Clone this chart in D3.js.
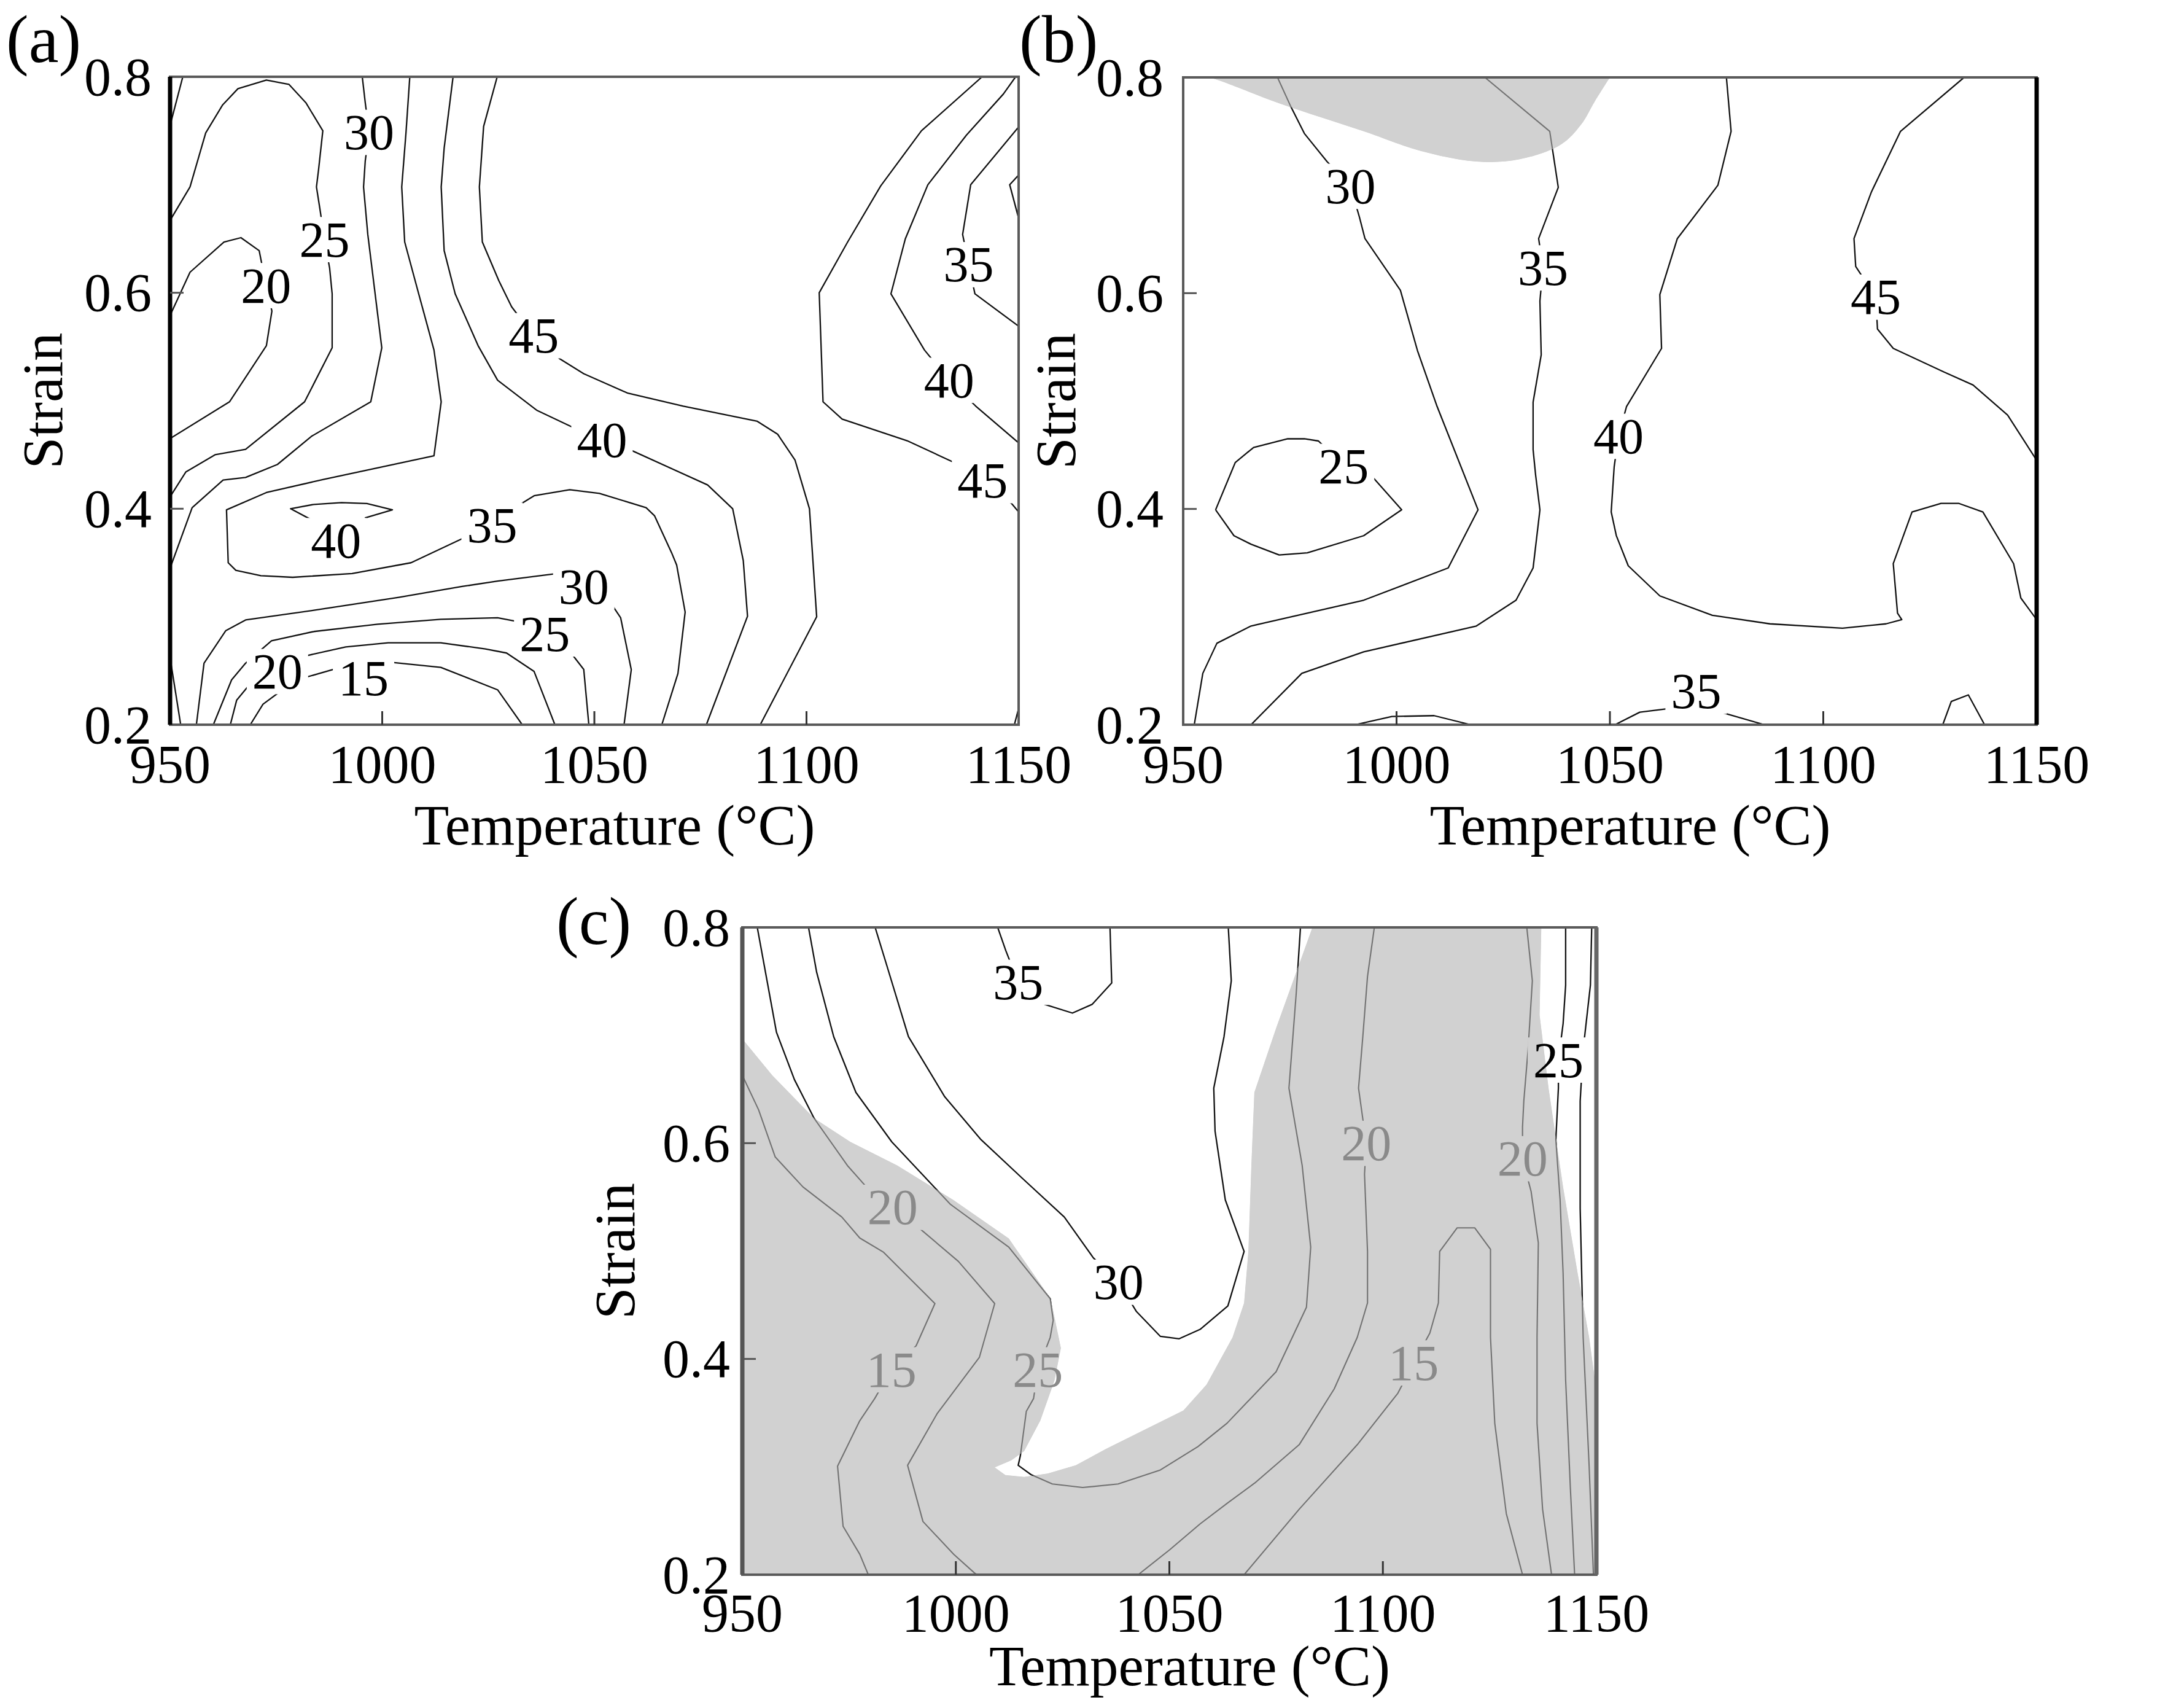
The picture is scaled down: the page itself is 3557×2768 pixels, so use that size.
<!DOCTYPE html>
<html><head><meta charset="utf-8">
<script src="https://cdn.jsdelivr.net/npm/d3@7"></script>
<style>
body{margin:0;background:#fff}
svg{display:block}
text{font-family:"Liberation Serif","Times New Roman",serif}
</style>
</head><body>
<svg id="chart" width="3557" height="2768"></svg>
<script>
// ---------------- axis values ----------------
const tempTicks = [950, 1000, 1050, 1100, 1150];
const strainTicks = [0.2, 0.4, 0.6, 0.8];
const xTitle = "Temperature (\u00B0C)";
const yTitle = "Strain";

// ---------------- panel (a) contour lines [temperature, strain] ----------------
const aCornerTL = [[953,0.8],[950,0.755]];
const a25top = [[950,0.667],[954.7,0.698],[958.4,0.748],[962.4,0.774],[966.0,0.789],[972.7,0.797],[978.0,0.793],[982.0,0.776],[986.0,0.750],[985.0,0.714],[984.5,0.698],[985.3,0.678],[986.4,0.649],[987.6,0.623],[988.2,0.599],[988.2,0.549],[981.7,0.499],[967.8,0.455],[960.6,0.450],[953.7,0.434],[950,0.411]];
const a20top = [[950,0.579],[954.7,0.619],[962.7,0.647],[966.7,0.651],[971.0,0.639],[972.6,0.607],[974.0,0.583],[972.7,0.551],[964.0,0.499],[950,0.465]];
const a30top = [[995.3,0.8],[996.0,0.776],[996.9,0.749],[996.0,0.722],[995.6,0.698],[996.6,0.654],[999.9,0.549],[997.3,0.499],[983.3,0.467],[975.3,0.441],[967.8,0.429],[962.5,0.4266],[955.2,0.401],[950,0.345]];
const a35 = [[1006.5,0.8],[1005.6,0.748],[1004.6,0.698],[1005.3,0.647],[1008.6,0.599],[1012.2,0.547],[1013.9,0.499],[1012.2,0.449],[986.0,0.427],[972.7,0.415],[963.3,0.399],[963.7,0.350],[965.5,0.343],[971.4,0.338],[978.9,0.3365],[992.9,0.340],[1006.8,0.350],[1019.8,0.374],[1025.9,0.385],[1032.5,0.404],[1035.8,0.412],[1044.2,0.4176],[1051.2,0.4142],[1062.2,0.401],[1064.2,0.3934],[1068.2,0.3593],[1069.4,0.3479],[1071.4,0.3043],[1069.7,0.2474],[1065.9,0.2]];
const a40loop = [[983.4,0.3896],[978.4,0.400],[983.9,0.404],[990.4,0.4057],[996.4,0.4048],[1002.4,0.399],[995.9,0.3915]];
const a40 = [[1016.7,0.8],[1014.6,0.734],[1013.9,0.698],[1014.6,0.639],[1017.2,0.599],[1022.6,0.551],[1027.2,0.519],[1036.5,0.491],[1046.2,0.473],[1051.8,0.463],[1058.2,0.455],[1076.7,0.422],[1082.6,0.400],[1085.1,0.352],[1086.1,0.3005],[1076.4,0.2]];
const a45 = [[1027.1,0.8],[1023.9,0.754],[1022.9,0.698],[1023.6,0.647],[1027.5,0.611],[1030.5,0.587],[1035.7,0.560],[1041.8,0.539],[1047.5,0.525],[1057.9,0.507],[1071.0,0.495],[1088.4,0.481],[1093.2,0.469],[1097.3,0.445],[1100.7,0.400],[1102.4,0.300],[1089.1,0.2]];
const a30bot = [[956.2,0.2],[958.0,0.257],[963.1,0.287],[967.8,0.297],[983.9,0.306],[1003.9,0.318],[1018.8,0.328],[1027.2,0.333],[1041.2,0.340],[1047.5,0.328],[1054.0,0.312],[1056.2,0.299],[1058.7,0.251],[1057.0,0.2]];
const a25bot = [[960.2,0.2],[964.5,0.2415],[967.8,0.257],[973.9,0.2777],[983.9,0.2863],[998.9,0.293],[1013.8,0.2976],[1027.2,0.299],[1032.5,0.295],[1038.3,0.284],[1044.7,0.2654],[1047.5,0.2512],[1048.7,0.2]];
const a20bot = [[964.2,0.2],[965.7,0.2228],[968.9,0.238],[975.3,0.2492],[981.7,0.2635],[991.4,0.272],[1001.4,0.2758],[1013.8,0.2758],[1024.3,0.2702],[1029.3,0.2664],[1035.8,0.2493],[1040.7,0.2]];
const a15bot = [[968.9,0.2],[971.9,0.219],[977.4,0.235],[980.9,0.2427],[989.4,0.2522],[1002.1,0.2578],[1013.8,0.2531],[1027.2,0.2323],[1033.0,0.2]];
const aCornerBL = [[950,0.262],[952.5,0.2]];
const a45r = [[1141.4,0.8],[1127.1,0.75],[1117.5,0.699],[1109.7,0.647],[1103.0,0.6],[1103.9,0.499],[1108.4,0.483],[1123.7,0.463],[1135.8,0.441],[1141.5,0.426],[1148.3,0.405],[1150,0.397]];
const a40r = [[1149.3,0.8],[1146.4,0.784],[1137.7,0.746],[1128.6,0.700],[1123.3,0.650],[1119.9,0.599],[1127.8,0.547],[1133.6,0.519],[1139.9,0.495],[1150,0.461]];
const a35r = [[1150,0.7535],[1138.7,0.700],[1136.8,0.654],[1138.2,0.627],[1139.7,0.599],[1150,0.569]];
const a30r = [[1150,0.709],[1147.9,0.700],[1150,0.669]];
const aTinyBR = [[1150,0.215],[1149,0.2]];
const aLabels = [["30",996.9,0.7485],["25",986.4,0.6492],["20",972.6,0.6066],["45",1035.7,0.5602],["40",1051.8,0.4634],["40",989.1,0.3705],["35",1025.9,0.3847],["30",1047.5,0.3279],["25",1038.3,0.2840],["20",975.3,0.2492],["15",995.6,0.2428],["35",1138.2,0.6260],["40",1133.6,0.5189],["45",1141.5,0.4260]];

// ---------------- panel (b) ----------------
const bGray = [[955,0.8],[956.9,0.799],[972.5,0.776],[992.3,0.750],[1005.5,0.732],[1018.7,0.722],[1028.7,0.724],[1038.6,0.738],[1043.2,0.756],[1046.5,0.778],[1050,0.8]];
const b30 = [[972.1,0.8],[975.1,0.774],[978.4,0.748],[983.7,0.722],[989.2,0.699],[991.3,0.6705],[992.6,0.6506],[1000.9,0.6027],[1004.9,0.5468],[1009.5,0.495],[1019.1,0.3992],[1012.1,0.3453],[992.3,0.3154],[965.9,0.2915],[957.9,0.2755],[954.6,0.2476],[952.6,0.2]];
const b25 = [[957.6,0.3992],[962.2,0.443],[966.5,0.457],[974.5,0.465],[978.4,0.465],[981.7,0.463],[987.6,0.440],[993.6,0.4331],[1001.2,0.3992],[992.3,0.3752],[979.1,0.3593],[972.5,0.3573],[965.9,0.3673],[961.9,0.3752],[957.6,0.3992]];
const b35 = [[1020.7,0.8],[1035.9,0.750],[1037.9,0.698],[1033.3,0.6506],[1034.3,0.6234],[1033.6,0.5927],[1033.9,0.5428],[1032.0,0.499],[1032.0,0.455],[1032.6,0.431],[1033.6,0.3992],[1032.0,0.3453],[1028.0,0.3154],[1018.7,0.2915],[992.3,0.2675],[977.8,0.2476],[965.9,0.2]];
const bBump1 = [[990.3,0.2],[998.9,0.2076],[1008.8,0.2084],[1017.4,0.2]];
const b35bot = [[1051.2,0.2],[1057.0,0.2116],[1065.1,0.2156],[1070.2,0.2160],[1076.0,0.2116],[1086.2,0.2]];
const bBump2 = [[1128.0,0.2],[1130.0,0.2216],[1134.0,0.2276],[1137.8,0.2]];
const b40 = [[1077.3,0.8],[1078.4,0.750],[1075.3,0.700],[1065.8,0.6506],[1061.7,0.5987],[1062.1,0.5488],[1053.9,0.495],[1052.0,0.4673],[1051.0,0.4391],[1050.3,0.3972],[1051.5,0.3753],[1054.3,0.3473],[1061.7,0.3194],[1074.0,0.3014],[1087.5,0.2935],[1104.5,0.2895],[1114.7,0.2935],[1118.4,0.2974],[1117.4,0.3034],[1116.4,0.3493],[1120.8,0.3972],[1127.6,0.4052],[1131.7,0.4052],[1137.4,0.3972],[1144.6,0.3493],[1146.3,0.3174],[1150,0.2974]];
const b45 = [[1133.0,0.8],[1118.1,0.750],[1111.3,0.694],[1107.2,0.6506],[1107.6,0.6247],[1112.3,0.5963],[1112.7,0.5668],[1116.4,0.5488],[1128.3,0.5269],[1135.1,0.5149],[1143.2,0.487],[1150,0.4451]];
const bLabels = [["30",989.2,0.699],["35",1034.3,0.6234],["25",987.6,0.4394],["40",1052.0,0.4673],["45",1112.3,0.5963],["35",1070.2,0.231]];

// ---------------- panel (c) ----------------
const cGray = [[1083.5,0.8],[1137.1,0.8],[1136.7,0.7187],[1138.8,0.651],[1142.2,0.5594],[1145.6,0.4797],[1148.3,0.42],[1150,0.37],[1150,0.2],[950,0.2],[950,0.6967],[957.0,0.6629],[966.8,0.6231],[975.3,0.6012],[986.3,0.5793],[999.4,0.5474],[1012.4,0.5116],[1022.2,0.4558],[1024.6,0.41],[1023.1,0.38],[1019.8,0.343],[1016.0,0.3145],[1013.0,0.306],[1009.1,0.2995],[1011.6,0.2923],[1016.0,0.2906],[1021.5,0.2938],[1028.1,0.3014],[1035.2,0.3167],[1046.2,0.3384],[1053.3,0.3523],[1058.7,0.3762],[1064.8,0.42],[1067.5,0.4519],[1068.5,0.4996],[1069.2,0.5793],[1069.9,0.647],[1075.0,0.7067],[1083.5,0.8]];
const c20a = [[953.5,0.8],[958.0,0.7027],[962.2,0.6589],[966.8,0.6231],[974.6,0.5793],[979.5,0.5574],[985.2,0.5405],[990.9,0.523],[1000.6,0.4904],[1009.1,0.4513],[1005.5,0.4014],[995.6,0.3492],[988.7,0.3014],[992.3,0.2493],[999.5,0.2189],[1004.4,0.2015],[1005,0.2]];
const c15a = [[950,0.6629],[953.8,0.631],[957.7,0.5872],[964.2,0.5594],[973.3,0.5315],[977.5,0.5121],[983.0,0.4991],[995.1,0.4513],[990.7,0.4122],[984.9,0.39],[981.0,0.3633],[977.5,0.3427],[972.3,0.3006],[973.6,0.2448],[977.5,0.219],[979.5,0.2]];
const c25 = [[965.5,0.8],[967.4,0.7585],[971.4,0.6987],[976.6,0.647],[985.0,0.6012],[998.7,0.5434],[1012.4,0.5036],[1022.1,0.4558],[1022.8,0.4359],[1022.1,0.42],[1019.2,0.39],[1018.2,0.3633],[1016.5,0.3514],[1015.1,0.3101],[1014.6,0.3014],[1017.6,0.2928],[1022.6,0.2841],[1029.7,0.2808],[1038.0,0.2841],[1047.9,0.2971],[1056.7,0.3188],[1063.5,0.3404],[1075.0,0.3881],[1082.1,0.4479],[1083.1,0.5036],[1081.1,0.5793],[1078.0,0.651],[1079.7,0.7386],[1080.7,0.8]];
const c30 = [[981.1,0.8],[983.7,0.7664],[988.9,0.6987],[997.4,0.643],[1005.9,0.6032],[1015.6,0.5673],[1025.4,0.5315],[1032.2,0.4937],[1038.1,0.4711],[1042.3,0.4439],[1047.9,0.4209],[1052.3,0.4187],[1057.2,0.4274],[1063.7,0.4491],[1067.5,0.4996],[1063.1,0.5474],[1060.7,0.6111],[1060.4,0.651],[1062.8,0.6987],[1064.5,0.7505],[1063.8,0.8]];
const c35 = [[1009.8,0.8],[1011.7,0.7784],[1014.6,0.7491],[1020.8,0.7286],[1027.3,0.7206],[1031.9,0.7286],[1036.5,0.7485],[1036.1,0.8]];
const c20b = [[1098.0,0.8],[1096.4,0.7545],[1095.3,0.6987],[1094.3,0.651],[1095.0,0.631],[1096.1,0.5998],[1095.7,0.5713],[1096.4,0.4996],[1096.4,0.4519],[1094.0,0.42],[1088.6,0.3722],[1080.4,0.3205],[1070,0.285],[1063.7,0.2667],[1057.2,0.2471],[1050.1,0.2232],[1042.7,0.2]];
const c15b = [[1067.5,0.2],[1080.4,0.2607],[1094.0,0.3205],[1103.5,0.3682],[1107.2,0.3963],[1111.0,0.424],[1113.0,0.4519],[1113.3,0.4996],[1117.4,0.5215],[1121.5,0.5215],[1125.2,0.5016],[1125.2,0.42],[1126.2,0.3404],[1128.9,0.2567],[1132.7,0.2]];
const c20c = [[1133.7,0.8],[1135.0,0.7505],[1134.0,0.6868],[1133.0,0.639],[1132.7,0.6151],[1132.7,0.5856],[1134.7,0.5554],[1136.4,0.5076],[1136.1,0.42],[1136.1,0.3404],[1137.4,0.2607],[1139.5,0.2]];
const c25b = [[1142.8,0.8],[1142.8,0.7465],[1142.2,0.7107],[1141.1,0.677],[1141.1,0.651],[1140.5,0.6032],[1141.5,0.5474],[1142.2,0.4797],[1142.8,0.3802],[1143.9,0.2806],[1144.9,0.2]];
const cEdge = [[1148.9,0.8],[1148.6,0.7465],[1146.9,0.6868],[1146.2,0.639],[1146.2,0.5395],[1146.9,0.42],[1148.3,0.3005],[1149.3,0.2]];
const cLabels = [["35",1014.6,0.7491,0],["30",1038.1,0.4711,0],["20",985.2,0.5405,1],["15",984.9,0.3899,1],["25",1019.2,0.3899,1],["20",1096.1,0.5998,1],["20",1132.7,0.5856,1],["15",1107.2,0.3963,1],["25",1141.1,0.677,0]];

// ---------------- drawing ----------------
const W = 3557, H = 2768;
const GRAY_FILL = "#d1d1d1";
const LABEL_SIZE = 82, TICK_SIZE = 88, TITLE_SIZE = 93;
const svg = d3.select("#chart");
const defs = svg.append("defs");

function drawPanel(p) {
  const x = d3.scaleLinear().domain([950, 1150]).range([p.x0, p.x1]);
  const y = d3.scaleLinear().domain([0.2, 0.8]).range([p.y1, p.y0]);
  const line = d3.line().x(d => x(d[0])).y(d => y(d[1]));
  const g = svg.append("g");
  const clipId = "plot-" + p.id;
  defs.append("clipPath").attr("id", clipId).append("rect")
    .attr("x", p.x0).attr("y", p.y0).attr("width", p.x1 - p.x0).attr("height", p.y1 - p.y0);
  const maskId = clipId + "-m";
  const mask = defs.append("mask").attr("id", maskId).attr("maskUnits", "userSpaceOnUse")
    .attr("x", 0).attr("y", 0).attr("width", W).attr("height", H);
  mask.append("rect").attr("x", 0).attr("y", 0).attr("width", W).attr("height", H).attr("fill", "#fff");

  const inner = g.append("g").attr("clip-path", `url(#${clipId})`);

  let grayD = null;
  if (p.gray) {
    const gl = p.grayCurve ? d3.line().x(d => x(d[0])).y(d => y(d[1])).curve(d3.curveCatmullRom) : line;
    grayD = gl(p.gray) + "Z";
    inner.append("path").attr("d", grayD).attr("fill", GRAY_FILL).attr("stroke", "none");
    defs.append("clipPath").attr("id", clipId + "-g").append("path").attr("d", grayD);
  }
  inner.append("g").attr("mask", `url(#${maskId})`)
    .selectAll("path").data(p.lines).join("path")
    .attr("d", d => line(d)).attr("fill", "none").attr("stroke", "#111")
    .attr("stroke-width", 2.3).attr("stroke-linejoin", "round");
  if (grayD) {
    const gg = inner.append("g").attr("clip-path", `url(#${clipId}-g)`);
    gg.append("path").attr("d", grayD).attr("fill", GRAY_FILL);
    gg.append("g").attr("mask", `url(#${maskId})`)
      .selectAll("path").data(p.lines).join("path")
      .attr("d", d => line(d)).attr("fill", "none").attr("stroke", "#727272")
      .attr("stroke-width", 2.1).attr("stroke-linejoin", "round");
  }
  // contour labels
  const labs = g.selectAll("text.lab").data(p.labels).join("text").attr("class", "lab")
    .attr("x", d => x(d[1])).attr("y", d => y(d[2]))
    .attr("text-anchor", "middle").attr("dominant-baseline", "central")
    .attr("font-size", LABEL_SIZE)
    .attr("fill", d => d[3] ? "#8a8a8a" : "#000")
    .text(d => d[0]);
  // gaps in the contour lines behind labels
  labs.each(function(d) {
    const b = this.getBBox();
    const cy = y(d[2]);
    mask.append("rect").attr("x", b.x - 9).attr("y", cy - 0.34 * LABEL_SIZE - 9)
      .attr("width", b.width + 18).attr("height", 0.68 * LABEL_SIZE + 18).attr("fill", "#000");
  });

  // frame
  g.append("rect").attr("x", p.x0).attr("y", p.y0).attr("width", p.x1 - p.x0).attr("height", p.y1 - p.y0)
    .attr("fill", "none").attr("stroke", "#5a5a5a").attr("stroke-width", 4);
  if (p.thickLeft) g.append("line").attr("x1", p.x0).attr("x2", p.x0).attr("y1", p.y0).attr("y2", p.y1)
    .attr("stroke", p.thickLeft).attr("stroke-width", 7);
  if (p.thickRight) g.append("line").attr("x1", p.x1).attr("x2", p.x1).attr("y1", p.y0).attr("y2", p.y1)
    .attr("stroke", p.thickRight).attr("stroke-width", 7);

  // inner ticks
  g.selectAll("line.xt").data(tempTicks.slice(1, -1)).join("line").attr("class", "xt")
    .attr("x1", d => x(d)).attr("x2", d => x(d)).attr("y1", p.y1).attr("y2", p.y1 - 22)
    .attr("stroke", "#333").attr("stroke-width", 3);
  g.selectAll("line.yt").data(strainTicks.slice(1, -1)).join("line").attr("class", "yt")
    .attr("x1", p.x0).attr("x2", p.x0 + 22).attr("y1", d => y(d)).attr("y2", d => y(d))
    .attr("stroke", "#555").attr("stroke-width", 3);

  // tick labels
  g.selectAll("text.xl").data(tempTicks).join("text").attr("class", "xl")
    .attr("x", d => x(d)).attr("y", p.y1 + p.tickOff).attr("text-anchor", "middle")
    .attr("font-size", TICK_SIZE).attr("fill", "#000").text(d => d3.format("d")(d));
  g.selectAll("text.yl").data(strainTicks).join("text").attr("class", "yl")
    .attr("x", p.x0 - p.yOff).attr("y", d => y(d)).attr("text-anchor", "end")
    .attr("dominant-baseline", "central").attr("font-size", TICK_SIZE).attr("fill", "#000")
    .text(d => d3.format(".1f")(d));

  // axis titles
  g.append("text").attr("x", (p.x0 + p.x1) / 2 + 33).attr("y", p.y1 + p.titleOff)
    .attr("text-anchor", "middle").attr("font-size", TITLE_SIZE).attr("fill", "#000").text(xTitle);
  g.append("text").attr("transform", `translate(${p.x0 - 176},${(p.y0 + p.y1) / 2}) rotate(-90)`)
    .attr("text-anchor", "middle").attr("font-size", TITLE_SIZE).attr("fill", "#000").text(yTitle);

  // panel letter
  g.append("text").attr("x", p.lx).attr("y", p.ly).attr("font-size", 110).attr("fill", "#000").text(p.letter);
}

drawPanel({id: "a", letter: "(a)", lx: 10, ly: 101, x0: 277, x1: 1659, y0: 125, y1: 1180, yOff: 30,
  tickOff: 94, titleOff: 195, thickLeft: "#000",
  lines: [aCornerTL, a25top, a20top, a30top, a35, a40loop, a40, a45, a30bot, a25bot, a20bot, a15bot, aCornerBL, a45r, a40r, a35r, a30r, aTinyBR],
  labels: aLabels});

drawPanel({id: "b", letter: "(b)", lx: 1660, ly: 101, x0: 1927, x1: 3317, y0: 126, y1: 1180, yOff: 32,
  tickOff: 94, titleOff: 195, thickRight: "#000",
  gray: bGray, grayCurve: true,
  lines: [b30, b25, b35, bBump1, b35bot, bBump2, b40, b45],
  labels: bLabels});

drawPanel({id: "c", letter: "(c)", lx: 906, ly: 1537, x0: 1209, x1: 2600, y0: 1510, y1: 2564, yOff: 20,
  tickOff: 92, titleOff: 180, thickLeft: "#555", thickRight: "#666",
  gray: cGray, grayCurve: false,
  lines: [c20a, c15a, c25, c30, c35, c20b, c15b, c20c, c25b, cEdge],
  labels: cLabels});
</script>
</body></html>
